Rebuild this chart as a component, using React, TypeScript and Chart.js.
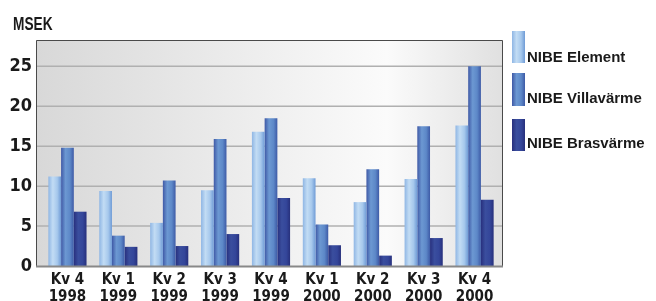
import React, { useEffect, useRef } from "react";
import { Chart, registerables } from "chart.js";

Chart.register(...registerables);

const categories: string[][] = [
  ["Kv 4", "1998"], ["Kv 1", "1999"], ["Kv 2", "1999"], ["Kv 3", "1999"], ["Kv 4", "1999"],
  ["Kv 1", "2000"], ["Kv 2", "2000"], ["Kv 3", "2000"], ["Kv 4", "2000"],
];
const seriesNames = ["NIBE Element", "NIBE Villavärme", "NIBE Brasvärme"];
const elementValues = [11.2, 9.4, 5.4, 9.5, 16.8, 11.0, 8.0, 10.9, 17.6];
const villaValues = [14.8, 3.8, 10.7, 15.9, 18.5, 5.2, 12.1, 17.5, 25.0];
const brasValues = [6.8, 2.4, 2.5, 4.0, 8.5, 2.6, 1.3, 3.5, 8.3];
const yTicks = [0, 5, 10, 15, 20, 25];
const yMax = 28.3;
const unitLabel = "MSEK";

const stops: string[][] = [
  ["#8fb6e4", "#c2dcf4", "#a6c8ec", "#6f9bd6"],
  ["#3f59a6", "#6c98d2", "#5d88c8", "#3d5aa6"],
  ["#28307e", "#3a4e9e", "#34469a", "#27307c"],
];

const NARROW = "'DejaVu Sans Condensed', 'Liberation Sans Narrow', 'Liberation Sans', Arial, sans-serif";
const WIDE = "'Liberation Sans', Arial, sans-serif";

function makeGrad(c: CanvasRenderingContext2D, x0: number, x1: number, s: string[]) {
  const g = c.createLinearGradient(x0, 0, x1, 0);
  g.addColorStop(0, s[0]);
  g.addColorStop(0.35, s[1]);
  g.addColorStop(0.7, s[2]);
  g.addColorStop(1, s[3]);
  return g;
}

export default function App() {
  const ref = useRef<HTMLCanvasElement>(null);
  useEffect(() => {
    if (!ref.current) return;
    const groupFrac = 0.75;
    const bgPlugin = {
      id: "bg",
      beforeDraw(chart: any) {
        const c = chart.ctx;
        const y = chart.scales.y;
        const L = 36, R = 503, T = 40, B = y.getPixelForValue(0);
        c.save();
        const g = c.createLinearGradient(L, 0, R, 0);
        g.addColorStop(0, "#d8d8d8");
        g.addColorStop(0.75, "#fbfbfb");
        g.addColorStop(1, "#e0e0e0");
        c.fillStyle = g;
        c.fillRect(L, T, R - L, B - T);
        c.strokeStyle = "#b0b0b0";
        c.lineWidth = 1.5;
        for (const v of yTicks) {
          if (v === 0) continue;
          const py = y.getPixelForValue(v);
          c.beginPath();
          c.moveTo(L, py);
          c.lineTo(R, py);
          c.stroke();
        }
        c.restore();
      },
      afterDatasetsDraw(chart: any) {
        const c = chart.ctx;
        const y = chart.scales.y;
        const L = 36, R = 503, T = 40, B = y.getPixelForValue(0);
        c.save();
        c.strokeStyle = "#4a4a4a";
        c.lineWidth = 1;
        c.beginPath();
        c.moveTo(L + 0.5, B);
        c.lineTo(L + 0.5, T + 0.5);
        c.lineTo(R - 0.5, T + 0.5);
        c.lineTo(R - 0.5, B);
        c.stroke();
        c.strokeStyle = "#888888";
        c.lineWidth = 2;
        c.beginPath();
        c.moveTo(L, B + 0.5);
        c.lineTo(R, B + 0.5);
        c.stroke();
        c.fillStyle = "#1a1a1a";
        c.textBaseline = "alphabetic";
        c.textAlign = "left";
        c.save();
        c.font = "bold 18px " + WIDE;
        c.translate(13, 30);
        c.scale(0.76, 1);
        c.fillText(unitLabel, 0, 0);
        c.restore();
        const items = [
          { top: 31, h: 32, text: 62 },
          { top: 73, h: 33, text: 103 },
          { top: 119, h: 32, text: 148 },
        ];
        c.font = "bold 15px " + WIDE;
        items.forEach((it, i) => {
          c.fillStyle = makeGrad(c, 512, 525, stops[i]);
          c.fillRect(512, it.top, 13, it.h);
          c.fillStyle = "#1a1a1a";
          c.fillText(seriesNames[i], 527, it.text);
        });
        c.restore();
      },
    };

    const bg = (di: number) => (ctx: any) => {
      const chart = ctx.chart;
      const x = chart.scales && chart.scales.x;
      const area = chart.chartArea;
      if (!x || !area || ctx.dataIndex === undefined) return stops[di][1];
      const cw = area.width / categories.length;
      const bw = (cw * groupFrac) / 3;
      const cx = x.getPixelForValue(ctx.dataIndex) + (di - 1) * bw;
      return makeGrad(chart.ctx, cx - bw / 2, cx + bw / 2, stops[di]);
    };

    const chart = new Chart(ref.current, {
      type: "bar",
      data: {
        labels: categories,
        datasets: [
          { label: seriesNames[0], data: elementValues, backgroundColor: bg(0) },
          { label: seriesNames[1], data: villaValues, backgroundColor: bg(1) },
          { label: seriesNames[2], data: brasValues, backgroundColor: bg(2) },
        ],
      },
      options: {
        responsive: false,
        animation: false,
        layout: { padding: { top: 40, right: 156, left: 0, bottom: 0 } },
        datasets: { bar: { categoryPercentage: groupFrac, barPercentage: 1, borderWidth: 0 } },
        plugins: { legend: { display: false }, tooltip: { enabled: false }, title: { display: false } },
        scales: {
          x: {
            grid: { display: false, drawTicks: false },
            border: { display: false },
            ticks: {
              color: "#1a1a1a",
              padding: 6,
              maxRotation: 0,
              autoSkip: false,
              font: { family: NARROW, size: 15, weight: "bold", lineHeight: 1.13 },
            },
            afterFit(s: any) { s.height = 35; },
          },
          y: {
            min: 0,
            max: yMax,
            grid: { display: false, drawTicks: false },
            border: { display: false },
            afterBuildTicks(s: any) { s.ticks = yTicks.map((v) => ({ value: v })); },
            ticks: {
              color: "#1a1a1a",
              padding: 10,
              font: { family: NARROW, size: 18, weight: "bold" },
            },
            afterFit(s: any) { s.width = 42; },
          },
        },
      },
      plugins: [bgPlugin],
    } as any);
    return () => chart.destroy();
  }, []);
  return (
    <div style={{ position: "fixed", left: 0, top: 0, width: 656, height: 301, background: "#fff" }}>
      <canvas ref={ref} width={656} height={301} style={{ display: "block" }} />
    </div>
  );
}
